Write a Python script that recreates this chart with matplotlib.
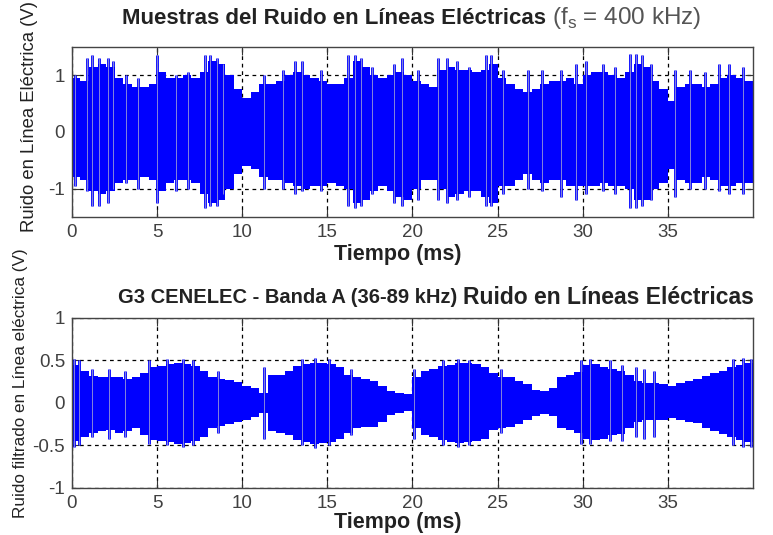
import numpy as np
import matplotlib
matplotlib.use("Agg")
import matplotlib.pyplot as plt

plt.rcParams["font.family"] = ["Liberation Sans", "DejaVu Sans"]

# envelope of the noise, read every 0.5 ms (upper / lower edge of the blue band)
t_env = np.arange(0, 40, 0.5)
raw_hi = [0.95, 0.90, 1.15, 1.20, 1.15, 0.95, 0.85, 0.80, 0.80, 0.85,
          1.05, 0.95, 0.95, 1.00, 0.95, 1.05, 1.25, 1.20, 1.00, 0.75,
          0.60, 0.70, 0.85, 0.85, 0.90, 1.00, 1.05, 1.00, 0.95, 0.90,
          0.85, 0.85, 0.95, 1.25, 1.15, 1.00, 0.95, 1.00, 1.05, 1.00,
          0.90, 0.85, 0.80, 1.10, 1.15, 1.10, 1.10, 1.05, 1.10, 1.20,
          0.95, 0.85, 0.75, 0.70, 0.75, 0.85, 0.90, 0.90, 0.95, 0.85,
          1.00, 1.05, 1.05, 1.00, 0.95, 1.05, 1.20, 1.15, 0.90, 0.75,
          0.55, 0.80, 0.85, 0.85, 0.80, 0.85, 0.95, 1.00, 0.95, 0.90]
raw_lo = [-0.80, -0.85, -1.05, -1.10, -1.05, -0.90, -0.85, -0.85, -0.80, -0.85,
          -1.05, -0.90, -0.85, -0.85, -0.90, -1.10, -1.25, -1.20, -1.00, -0.75,
          -0.60, -0.65, -0.80, -0.85, -0.85, -0.90, -0.95, -1.00, -0.95, -0.95,
          -0.90, -0.95, -1.00, -1.25, -1.20, -1.05, -0.95, -1.05, -1.15, -1.20,
          -1.00, -0.85, -0.85, -1.00, -1.15, -1.10, -1.05, -1.05, -1.15, -1.25,
          -0.95, -0.95, -0.85, -0.75, -0.85, -0.90, -0.85, -0.85, -0.95, -0.95,
          -0.95, -0.95, -0.90, -0.95, -0.95, -1.00, -1.20, -1.20, -1.00, -0.90,
          -0.65, -0.85, -0.90, -0.90, -0.80, -0.85, -0.95, -0.95, -0.90, -0.90]
filt_hi = [0.45, 0.38, 0.32, 0.30, 0.30, 0.30, 0.28, 0.30, 0.35, 0.42,
           0.44, 0.46, 0.47, 0.46, 0.44, 0.38, 0.30, 0.28, 0.27, 0.25,
           0.20, 0.18, 0.12, 0.33, 0.33, 0.38, 0.43, 0.46, 0.47, 0.47,
           0.46, 0.42, 0.33, 0.30, 0.28, 0.26, 0.20, 0.14, 0.12, 0.10,
           0.30, 0.38, 0.40, 0.43, 0.45, 0.47, 0.47, 0.46, 0.42, 0.35,
           0.30, 0.30, 0.26, 0.22, 0.15, 0.14, 0.18, 0.30, 0.33, 0.36,
           0.45, 0.46, 0.42, 0.40, 0.38, 0.33, 0.26, 0.24, 0.24, 0.22,
           0.20, 0.24, 0.26, 0.28, 0.32, 0.35, 0.38, 0.42, 0.45, 0.47]
filt_lo = [-0.45, -0.40, -0.35, -0.33, -0.32, -0.35, -0.33, -0.30, -0.38, -0.43,
           -0.45, -0.46, -0.48, -0.47, -0.45, -0.40, -0.30, -0.27, -0.25, -0.22,
           -0.20, -0.17, -0.12, -0.33, -0.35, -0.38, -0.43, -0.46, -0.48, -0.47,
           -0.46, -0.42, -0.35, -0.30, -0.28, -0.28, -0.22, -0.14, -0.12, -0.10,
           -0.30, -0.38, -0.40, -0.43, -0.46, -0.47, -0.46, -0.45, -0.42, -0.32,
           -0.30, -0.28, -0.25, -0.20, -0.15, -0.13, -0.15, -0.30, -0.32, -0.35,
           -0.42, -0.43, -0.42, -0.38, -0.36, -0.30, -0.22, -0.20, -0.20, -0.20,
           -0.18, -0.20, -0.22, -0.24, -0.30, -0.33, -0.37, -0.40, -0.44, -0.46]

# isolated spikes sticking out of the band: time (ms), top, bottom
raw_spk_t = [0.2, 0.9, 1.2, 1.6, 2.1, 2.4, 3.2, 3.9, 5.0, 6.1, 6.8, 7.8, 8.1, 8.5, 8.9,
             11.3, 12.4, 13.1, 13.5, 14.6, 16.2, 16.6, 17.0, 17.6, 18.9, 19.4, 20.3,
             21.5, 22.0, 22.6, 23.3, 24.3, 24.6, 25.3, 26.8, 27.6, 28.7, 29.6, 30.2,
             31.2, 31.9, 32.8, 33.1, 33.5, 34.0, 35.4, 36.3, 37.2, 38.0, 38.6, 39.4]
raw_spk_hi = [1.0, 1.3, 1.35, 1.3, 1.3, 1.25, 1.0, 0.95, 1.35, 1.0, 1.05, 1.35, 1.35, 1.3, 1.2,
              1.0, 1.1, 1.25, 1.25, 1.1, 1.35, 1.35, 1.3, 1.15, 1.2, 1.3, 1.1,
              1.3, 1.3, 1.25, 1.15, 1.35, 1.35, 1.1, 1.1, 1.1, 1.1, 1.2, 1.25,
              1.2, 1.15, 1.38, 1.38, 1.35, 1.2, 1.1, 1.1, 1.05, 1.2, 1.2, 1.15]
raw_spk_lo = [-0.95, -1.05, -1.3, -1.3, -1.25, -1.0, -0.9, -1.0, -1.25, -1.05, -1.0, -1.35, -1.3, -1.3, -1.1,
              -1.0, -1.0, -1.1, -1.05, -1.05, -1.3, -1.35, -1.3, -1.1, -1.25, -1.3, -1.2,
              -1.2, -1.25, -1.2, -1.15, -1.3, -1.3, -1.1, -1.0, -1.05, -1.15, -1.2, -1.1,
              -1.05, -1.1, -1.35, -1.35, -1.3, -1.2, -1.15, -1.0, -1.0, -1.05, -1.1, -1.1]
filt_spk_t = [0.1, 0.4, 1.2, 2.2, 3.1, 4.5, 5.6, 6.5, 7.1, 8.6, 11.3, 13.5, 14.3, 15.1,
              16.4, 20.1, 21.8, 22.7, 23.3, 25.2, 29.9, 30.4, 31.6, 32.3, 33.1, 33.6,
              34.2, 38.8, 39.4, 39.9]
filt_spk_hi = [0.52, 0.5, 0.4, 0.4, 0.38, 0.5, 0.52, 0.52, 0.5, 0.38, 0.42, 0.52, 0.53, 0.52,
               0.4, 0.4, 0.5, 0.52, 0.5, 0.4, 0.5, 0.52, 0.5, 0.45, 0.42, 0.4,
               0.38, 0.52, 0.53, 0.52]
filt_spk_lo = [-0.52, -0.5, -0.4, -0.42, -0.4, -0.48, -0.5, -0.52, -0.5, -0.35, -0.42, -0.5, -0.53, -0.5,
               -0.38, -0.42, -0.5, -0.52, -0.5, -0.35, -0.48, -0.48, -0.45, -0.45, -0.4, -0.42,
               -0.4, -0.5, -0.52, -0.52]

x_ticks = [0, 5, 10, 15, 20, 25, 30, 35]
raw_yticks = [-1, 0, 1]
filt_yticks = [-1, -0.5, 0, 0.5, 1]

BLUE = "#0000ff"
LIGHT = "#9a9ad6"
TXT = "#404040"
DARK = "#222222"


def draw_noise(ax, hi, lo, st, sh, sl, yticks, ylim):
    edges = np.append(t_env, 40)
    ax.stairs(hi, edges, baseline=lo, fill=True, color=BLUE, lw=0)
    ax.vlines(st, sl, sh, color=BLUE, lw=2.0)
    ax.vlines(st, sl, sh, color=LIGHT, lw=0.6)
    ax.set_xlim(0, 40)
    ax.set_ylim(*ylim)
    ax.set_xticks(x_ticks)
    ax.set_yticks(yticks)
    ax.set_yticklabels([f"{v:g}" for v in yticks])
    ax.grid(True, color="black", ls=(0, (3, 3)), lw=0.9)
    ax.set_axisbelow(True)
    ax.tick_params(direction="in", top=True, right=True, labelsize=13.5,
                   labelcolor=TXT, color="#333333", length=6, pad=5)
    for s in ax.spines.values():
        s.set_color("#444444")
        s.set_linewidth(1.0)
        s.set_zorder(3)


fig = plt.figure(figsize=(7.73, 5.35), dpi=100)
ax1 = fig.add_axes([0.0931, 0.5944, 0.881, 0.3178])
ax2 = fig.add_axes([0.0931, 0.0879, 0.881, 0.3178])

draw_noise(ax1, raw_hi, raw_lo, raw_spk_t, raw_spk_hi, raw_spk_lo, raw_yticks, (-1.5, 1.5))
draw_noise(ax2, filt_hi, filt_lo, filt_spk_t, filt_spk_hi, filt_spk_lo, filt_yticks, (-1, 1))

# titles, each made of two pieces with different weight / size
t1 = fig.text(0.158, 0.966, "Muestras del Ruido en Líneas Eléctricas", fontsize=16,
              fontweight="bold", color=DARK, ha="left", va="center")
ax1.annotate(r"(f$_\mathregular{s}$ = 400 kHz)", xy=(1, 0.5), xycoords=t1,
             xytext=(4, 0), textcoords="offset points", fontsize=17.5,
             color="#555555", ha="left", va="center", annotation_clip=False)
t2 = fig.text(0.153, 0.443, "G3 CENELEC - Banda A (36-89 kHz)", fontsize=14.5,
              fontweight="bold", color=DARK, ha="left", va="center")
ax2.annotate("Ruido en Líneas Eléctricas", xy=(1, 0.5), xycoords=t2,
             xytext=(4, 0), textcoords="offset points", fontsize=16.5,
             fontweight="bold", color=DARK, ha="left", va="center", annotation_clip=False)

# axis labels
fig.text(0.515, 0.525, "Tiempo (ms)", fontsize=15.5, fontweight="bold",
         color=DARK, ha="center", va="center")
fig.text(0.515, 0.024, "Tiempo (ms)", fontsize=15.5, fontweight="bold",
         color=DARK, ha="center", va="center")
fig.text(0.038, 0.782, "Ruido en Línea Eléctrica (V)", fontsize=13.3, rotation=90,
         color=DARK, ha="center", va="center")
fig.text(0.026, 0.284, "Ruido filtrado en Línea eléctrica (V)", fontsize=12.3, rotation=90,
         color=DARK, ha="center", va="center")

fig.savefig("out.png", dpi=100)
